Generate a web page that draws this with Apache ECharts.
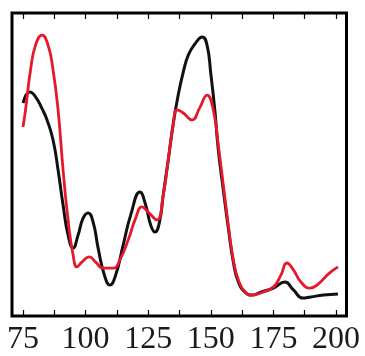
<!DOCTYPE html>
<html><head><meta charset="utf-8">
<script src="https://cdn.jsdelivr.net/npm/echarts@6/dist/echarts.min.js"></script>
<style>html,body{margin:0;padding:0;background:#fff}#c{width:365px;height:356px}</style>
</head><body><div id="c"></div>
<script>
const tickLabels = [75, 100, 125, 150, 175, 200];
const tickMarks = [75, 87.5, 100, 112.5, 125, 137.5, 150, 162.5, 175, 187.5, 200];

const redX = [75, 76, 78, 80, 82.6, 85, 87, 89, 91, 93, 95, 96.6, 98.5, 101.5, 104, 107, 111, 114, 117, 120, 122.5, 125, 128.5, 131, 133, 135, 136.5, 139, 142.5, 145.5, 148.5, 151, 153, 155, 157, 159, 161, 163.7, 166.5, 170, 175, 178, 180.4, 183, 186, 189.6, 193, 197, 200.8];
const redY = [62.4, 68.0, 81.2, 89.4, 92.7, 89.4, 81.2, 68.0, 48.2, 31.7, 20.1, 16.2, 17.8, 19.5, 17.8, 15.8, 15.8, 19.1, 25.1, 32.3, 36.0, 34.3, 31.7, 39.9, 51.5, 63.0, 68.0, 67.0, 64.7, 68.6, 72.9, 68.0, 56.4, 43.2, 30.0, 18.5, 11.9, 7.9, 6.9, 7.6, 9.6, 13.5, 17.5, 15.2, 11.2, 9.2, 10.6, 13.9, 16.2];

const blackX = [75, 77.8, 80, 82.5, 84.6, 87, 89, 91, 93, 95, 97, 99, 101, 103, 105, 107.5, 109.7, 112, 115, 118, 121.7, 124, 126, 127.7, 129.5, 131, 133, 135, 137, 139, 141, 143.5, 146.6, 148.5, 150, 151.6, 153, 155, 157, 159, 161, 163.7, 166.5, 170, 175, 179.6, 183, 186.8, 190, 195, 200.8];
const blackY = [70.3, 73.9, 72.3, 68.6, 64.7, 58.1, 48.2, 36.6, 26.7, 22.4, 26.7, 32.3, 34.0, 31.0, 22.4, 13.5, 10.2, 13.5, 23.4, 33.3, 40.9, 36.6, 30.0, 27.7, 31.0, 39.9, 51.5, 63.5, 73.0, 80.5, 86.1, 89.6, 92.1, 89.4, 80.0, 68.0, 54.8, 41.6, 29.0, 17.8, 11.2, 7.9, 6.9, 7.9, 9.2, 11.2, 8.6, 5.9, 6.3, 6.9, 7.3];

const pairs = (xs, ys) => xs.map((x, i) => [x, ys[i]]);
const chart = echarts.init(document.getElementById('c'), null, {renderer: 'canvas'});
const serif = '"Liberation Serif","Times New Roman",serif';
const xMin = 70.6, xMax = 204.2;
chart.setOption({
  animation: false,
  grid: {left: 12, right: 18.5, top: 13, bottom: 40, show: true, borderColor: '#000', borderWidth: 3, backgroundColor: '#fff'},
  xAxis: [{
    type: 'value', min: xMin, max: xMax, position: 'bottom',
    axisLine: {show: false}, splitLine: {show: false},
    axisTick: {show: true, inside: true, length: 6, customValues: tickMarks, lineStyle: {color: '#000', width: 1.2}},
    axisLabel: {show: true, customValues: tickLabels, fontFamily: serif, fontSize: 32, color: '#1a1a1a', margin: 8}
  }, {
    type: 'value', min: xMin, max: xMax, position: 'top',
    axisLine: {show: false}, splitLine: {show: false},
    axisTick: {show: true, inside: true, length: 6, customValues: tickMarks, lineStyle: {color: '#000', width: 1.2}},
    axisLabel: {show: false}
  }],
  yAxis: {type: 'value', min: 0, max: 100, show: false},
  series: [
    {type: 'line', data: pairs(blackX, blackY), smooth: 0.5, symbol: 'none', lineStyle: {color: '#111', width: 3}},
    {type: 'line', data: pairs(redX, redY), smooth: 0.5, symbol: 'none', lineStyle: {color: '#e5192b', width: 2.8}}
  ]
});
</script></body></html>
